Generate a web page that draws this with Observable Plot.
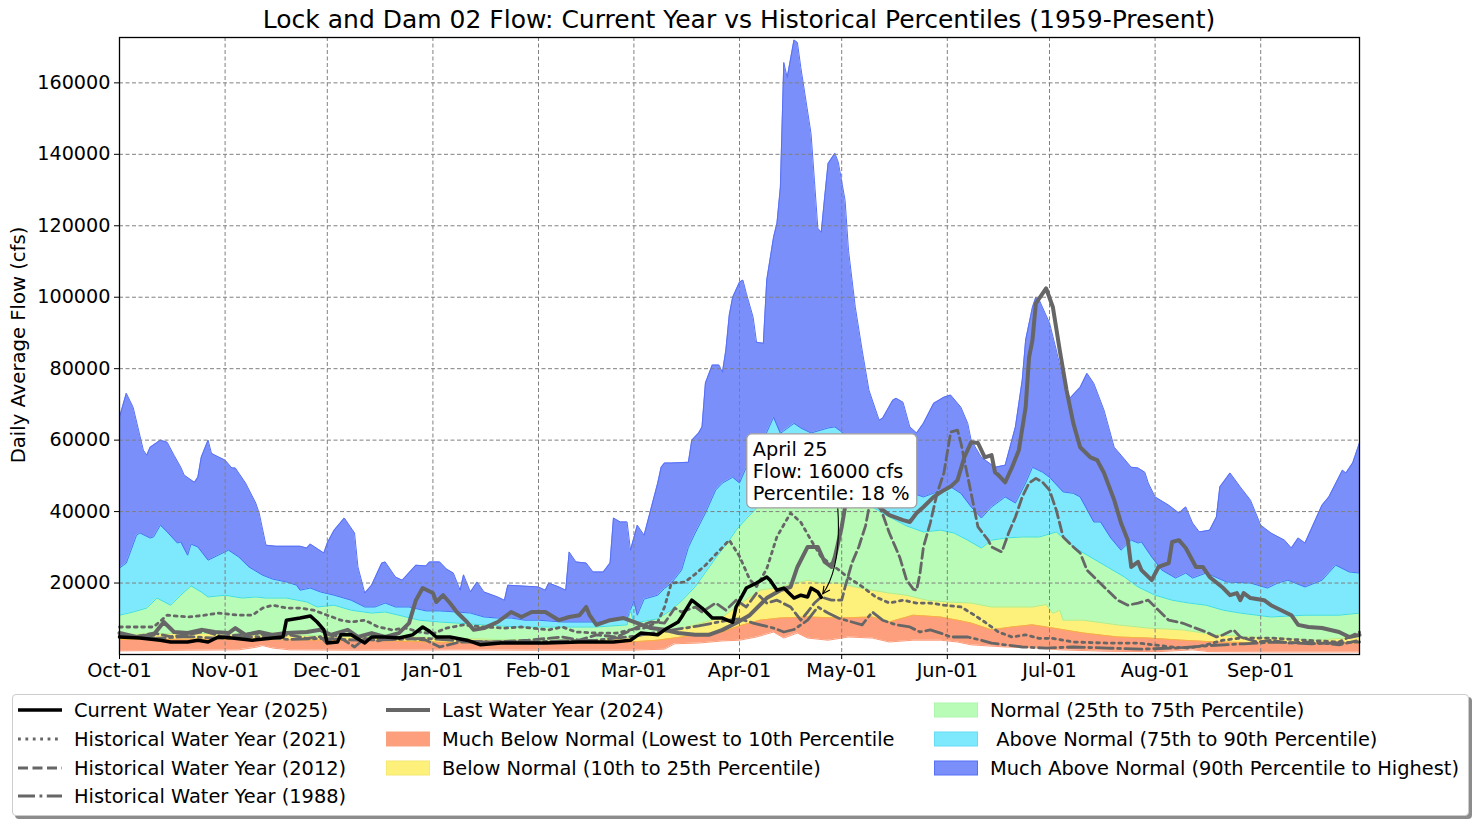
<!DOCTYPE html>
<html><head><meta charset="utf-8">
<script src="https://cdn.jsdelivr.net/npm/d3@7"></script>
<script src="https://cdn.jsdelivr.net/npm/@observablehq/plot@0.6"></script>
<style>
body{margin:0;background:#fff;font-family:"DejaVu Sans",sans-serif;color:#000;}
#wrap{position:relative;width:1477px;height:824px;overflow:hidden;}
#chart{position:absolute;left:0;top:0;}
#title{position:absolute;left:119px;width:1240px;top:5px;text-align:center;font-size:25px;line-height:30px;white-space:nowrap;}
#ylabel{position:absolute;left:18px;top:345px;transform:translate(-50%,-50%) rotate(-90deg);font-size:19.6px;white-space:nowrap;}
#legend{position:absolute;left:12px;top:694px;width:1455px;height:120px;border:1px solid #cccccc;border-radius:4px;background:#fff;box-shadow:3px 3px 0 rgba(0,0,0,0.45);}
.item{position:absolute;height:24px;display:flex;align-items:center;font-size:19.4px;white-space:pre;}
.item svg{margin-right:11px;flex:none;}
</style></head><body>
<div id="wrap">
<div id="title">Lock and Dam 02 Flow: Current Year vs Historical Percentiles (1959-Present)</div>
<div id="chart"></div>
<div id="ylabel">Daily Average Flow (cfs)</div>
<div id="legend"></div>
</div>
<script>
// ---- axis ticks ----
const monthDays = [0,31,61,92,123,151,182,212,243,273,304,335];
const monthLabels = ["Oct-01","Nov-01","Dec-01","Jan-01","Feb-01","Mar-01","Apr-01","May-01","Jun-01","Jul-01","Aug-01","Sep-01"];
const yTicks = [20000,40000,60000,80000,100000,120000,140000,160000];

// ---- percentile bands: [day of water year, cfs] ----
const maxQ = [[0,66400],[2,73100],[4,69200],[7,57200],[8,55800],[9,58000],[12,60000],[14,59400],[16,55800],[18,52400],[19,50200],[22,48200],[23,49600],[24,55200],[26,60000],[27,56300],[28,55800],[31,54400],[33,52200],[34,52200],[37,48000],[40,42400],[41,39600],[43,30600],[46,30300],[53,30300],[55,29800],[56,30900],[60,28400],[61,31200],[63,34800],[66,38200],[69,34000],[70,24500],[72,17200],[74,19400],[77,25600],[78,25900],[81,21700],[83,20800],[87,25000],[90,24800],[91,25900],[94,25900],[96,23900],[98,22800],[100,18000],[101,22300],[103,17500],[105,20300],[107,17500],[111,16100],[113,15200],[114,19400],[123,18900],[125,18000],[126,20000],[129,18900],[131,18000],[132,28700],[134,25900],[137,25600],[139,23100],[142,23100],[144,25600],[145,38200],[147,37100],[149,37100],[150,29200],[152,36200],[154,33400],[158,48000],[159,52400],[160,53600],[162,53600],[167,53800],[168,60000],[170,62000],[171,63700],[172,76000],[174,81000],[176,81000],[177,79000],[178,85200],[179,95000],[180,100000],[182,104200],[183,104800],[184,101100],[186,94400],[187,87400],[189,87100],[190,104800],[192,116800],[193,120700],[194,130800],[195,165700],[196,161500],[198,172000],[199,171300],[200,164300],[203,145800],[204,132700],[205,119300],[206,118200],[207,128000],[208,137400],[210,140300],[211,137800],[213,127100],[214,113100],[216,97200],[218,85200],[220,74000],[223,65600],[224,66100],[227,71200],[228,71700],[230,70600],[232,63700],[234,62000],[236,64700],[239,70300],[242,72000],[244,72600],[247,69200],[249,64700],[250,60000],[253,55200],[257,52400],[260,53000],[263,63700],[265,76800],[266,88000],[268,97200],[269,100000],[270,99200],[273,92800],[275,85200],[277,76800],[279,71700],[282,74800],[284,78700],[286,75900],[289,68400],[292,58000],[294,55800],[297,52400],[299,52200],[301,51000],[302,48000],[304,44100],[308,41800],[311,39600],[313,41300],[315,36800],[317,34300],[320,34800],[322,38500],[323,46900],[326,50800],[329,46900],[332,43200],[335,36200],[338,34000],[342,32000],[344,29800],[346,32600],[348,31200],[353,41800],[355,44100],[359,51600],[360,50800],[362,53600],[364,59200]];
const p90 = [[0,24200],[2,25600],[5,33400],[6,34000],[9,32600],[10,32900],[12,36200],[14,34300],[17,31200],[18,31500],[20,27800],[21,30900],[23,30100],[26,26400],[29,27800],[32,29200],[35,27300],[38,24500],[42,22200],[45,21100],[49,20300],[52,19400],[53,18000],[56,18600],[59,17500],[63,16600],[68,15200],[72,13300],[75,13300],[78,14400],[81,13300],[85,13300],[90,12200],[94,12200],[99,11900],[103,11600],[107,10500],[111,10200],[115,10200],[119,9600],[123,9600],[130,9100],[140,9100],[149,10000],[151,15000],[152,11000],[154,15500],[158,16600],[160,18500],[162,20000],[165,23600],[167,30000],[169,34000],[172,39600],[175,46000],[177,48000],[180,49600],[182,48000],[184,52400],[188,58000],[192,66400],[194,61900],[198,64700],[200,63400],[203,62000],[208,63400],[210,63700],[212,62300],[216,57000],[222,51000],[230,46000],[236,44100],[240,45500],[244,46900],[247,45100],[250,41300],[253,38200],[256,41300],[260,44100],[263,42400],[266,48000],[268,52400],[271,51000],[273,49600],[277,45500],[280,45100],[282,44100],[286,37100],[288,37100],[291,32600],[294,29200],[297,32000],[299,31200],[300,31500],[303,27300],[306,23600],[310,21400],[313,22800],[315,21400],[319,22800],[325,20300],[332,20000],[337,18600],[340,20000],[343,20800],[348,18900],[353,20800],[357,25000],[361,23100],[364,22800]];
const p75 = [[0,11000],[4,11900],[8,13000],[11,15800],[15,13800],[18,16600],[21,19200],[24,17500],[26,16100],[31,16600],[36,15800],[40,16100],[43,15800],[49,15800],[55,14700],[58,13300],[63,13800],[68,12400],[74,11600],[78,11900],[82,11000],[88,9600],[94,9100],[99,8800],[107,8300],[117,7700],[130,7700],[140,7700],[149,8300],[150,12400],[151,8800],[158,10000],[162,12500],[165,15000],[169,19000],[172,23000],[175,27000],[179,32000],[181,34800],[184,38000],[188,42000],[194,46000],[200,47000],[210,47000],[218,43000],[225,39000],[231,36000],[236,34300],[241,34800],[245,34000],[249,32000],[253,29800],[256,32000],[260,32600],[265,32900],[270,32900],[275,34300],[280,30100],[285,27300],[290,24500],[295,21700],[299,18900],[304,16600],[309,15200],[314,14400],[319,13800],[324,12400],[329,11600],[338,10500],[348,11000],[358,11000],[364,11600]];
const p25 = [[0,5500],[10,5800],[20,6000],[30,5800],[40,5500],[50,5500],[60,5200],[70,5000],[80,5000],[90,4800],[100,4500],[110,4200],[120,4000],[130,4000],[140,4200],[150,4800],[158,6000],[165,7400],[169,8300],[177,10500],[182,14000],[188,18000],[194,18900],[202,20800],[206,20000],[211,20000],[216,18900],[221,18000],[226,17200],[231,16600],[237,15200],[243,14700],[250,14400],[256,13300],[262,13300],[268,13300],[272,14000],[274,11500],[276,12400],[277,9600],[283,9600],[293,8300],[302,7400],[312,6900],[322,5500],[332,4900],[341,4600],[351,4000],[364,4900]];
const p10 = [[0,4200],[20,4300],[40,4200],[60,4000],[80,3800],[100,3300],[120,3000],[140,3200],[150,3500],[158,4000],[165,4900],[169,5500],[177,6300],[182,8000],[188,9600],[194,10200],[202,10500],[211,10200],[221,10500],[226,9100],[233,11000],[241,10500],[246,9600],[250,8800],[256,6900],[262,7700],[268,8300],[274,7400],[283,6000],[293,4900],[302,4600],[312,4000],[322,3500],[341,3200],[364,3200]];
const minQ = [[0,1000],[20,1200],[35,1300],[40,2000],[42,2500],[45,1800],[50,1300],[70,1200],[100,1300],[120,1200],[150,1200],[160,1500],[163,3000],[170,3200],[177,3800],[182,4000],[187,4900],[192,6300],[195,4600],[199,6000],[202,4600],[208,4000],[214,4900],[221,4600],[226,3500],[233,4000],[241,4000],[246,3500],[250,2700],[260,2100],[270,1800],[276,1300],[290,900],[305,800],[315,1300],[320,800],[340,700],[364,700]];

// ---- yearly series ----
const cur2025 = [[0,4900],[6,4600],[12,4000],[15,3500],[20,3500],[23,4000],[26,3500],[29,4900],[33,4600],[39,4000],[45,4600],[48,4900],[49,9600],[53,10200],[56,10800],[58,9100],[60,6900],[61,3200],[64,3500],[65,5500],[68,5500],[72,3200],[74,4900],[78,4900],[82,4600],[86,5500],[89,7700],[91,6500],[93,4900],[97,4900],[102,4000],[106,2700],[112,3200],[117,3200],[122,3200],[125,3200],[135,3500],[145,3500],[150,4000],[153,6000],[158,5500],[160,6900],[164,9100],[165,10500],[168,15200],[171,13000],[174,10200],[177,10200],[180,9000],[181,13300],[184,18600],[187,20000],[190,21700],[191,20800],[193,18000],[195,18600],[198,15800],[200,16600],[202,16100],[203,18600],[205,17500],[206,16000]];
const last2024 = [[0,6000],[5,4900],[10,5500],[13,9100],[16,6300],[20,6000],[24,6900],[28,6300],[32,6000],[34,7400],[37,5500],[41,6300],[45,5500],[49,6000],[55,6300],[59,6900],[62,5500],[67,6900],[70,4900],[74,6000],[78,4900],[82,6000],[85,8800],[87,15200],[89,18600],[92,17200],[93,14700],[95,16600],[97,14400],[99,11900],[102,9100],[104,6900],[107,7400],[111,9100],[115,11900],[118,10500],[121,11900],[125,11900],[129,9600],[132,10500],[135,11000],[137,13300],[138,11000],[140,8300],[144,9600],[148,10200],[152,8800],[156,7400],[160,6900],[164,6000],[169,5500],[173,5500],[177,6900],[181,8800],[185,11000],[190,15800],[194,18000],[197,18900],[199,24500],[202,30100],[205,30100],[206,28000],[207,25900],[209,24500],[210,27300],[212,35700],[213,41300],[215,46000],[218,44000],[222,42000],[226,39000],[230,37600],[232,37100],[234,39600],[236,41300],[239,44100],[242,46000],[244,47000],[246,48800],[248,55200],[250,59400],[252,59200],[254,55200],[256,55800],[257,51000],[258,50200],[260,48200],[262,52400],[264,57200],[266,69200],[267,83200],[268,88000],[269,98300],[272,102500],[274,97200],[276,85200],[278,74000],[280,64700],[282,58000],[285,55200],[287,54400],[289,50800],[292,43200],[294,36800],[296,32000],[297,24500],[299,25900],[300,23600],[303,20800],[305,24500],[308,25600],[309,31500],[311,32000],[313,29800],[316,24500],[318,24500],[320,21700],[324,18600],[326,16600],[328,17200],[329,15200],[330,17200],[332,15800],[336,15200],[338,13800],[341,12400],[344,11000],[346,8300],[349,7700],[353,7400],[358,6300],[361,4900],[364,5500]];
const hist2021 = [[0,7700],[10,7700],[14,11000],[20,10500],[25,11000],[29,11600],[35,11000],[39,11000],[42,13000],[45,13800],[49,13000],[53,13000],[57,12400],[61,11000],[65,9600],[68,9100],[72,9600],[76,7700],[80,6900],[84,7400],[88,6300],[92,5800],[96,7400],[101,8300],[107,7700],[113,7400],[118,7700],[126,6900],[130,7700],[134,6300],[140,6000],[146,6000],[150,6900],[154,7400],[158,9100],[160,13300],[162,20000],[166,20300],[169,22500],[172,25000],[174,27000],[176,29000],[179,32000],[182,27500],[185,21000],[187,19000],[190,24000],[193,33000],[197,39600],[200,37000],[203,32000],[206,27300],[210,24500],[214,21500],[218,19000],[222,16100],[226,14400],[230,15200],[234,14400],[238,14400],[242,13800],[247,13300],[250,11600],[254,9100],[258,6300],[262,4900],[266,5500],[270,4500],[274,4500],[280,3500],[290,3200],[299,3200],[309,2100],[314,1800],[319,2700],[324,4000],[329,4600],[338,4600],[348,4000],[358,3500],[364,6300]];
const hist2012 = [[0,5500],[5,5000],[10,6000],[15,5000],[20,5500],[25,6500],[30,5000],[35,5500],[40,6000],[45,5000],[50,5500],[55,4500],[59,5000],[61,3000],[63,5500],[66,4000],[69,2100],[72,4500],[76,3800],[80,5000],[85,4500],[90,4000],[94,2100],[100,3500],[110,3500],[120,4000],[130,4900],[135,4000],[140,5500],[146,4900],[152,7700],[156,9100],[160,8800],[163,13000],[165,11900],[169,13300],[171,11900],[175,14400],[178,12400],[181,15200],[184,13300],[187,17200],[190,14400],[193,15200],[197,13300],[200,9600],[202,11900],[204,14400],[206,16100],[209,15200],[212,15200],[213,18900],[215,25600],[217,30100],[219,36000],[221,46000],[223,42000],[226,34000],[229,27300],[231,21000],[233,18300],[234,18000],[235,22800],[236,30100],[238,36800],[240,45100],[242,50800],[244,62300],[246,62800],[247,59200],[248,54400],[250,45100],[252,35700],[255,32000],[256,30100],[259,28700],[261,34000],[263,38500],[265,44100],[267,48000],[269,49300],[271,48200],[273,46000],[275,40400],[277,32900],[280,30100],[282,28400],[284,23600],[287,20800],[290,18000],[293,15200],[296,13800],[299,14400],[302,15200],[304,13300],[308,9600],[312,8800],[315,7700],[319,6300],[322,4900],[324,5500],[327,6900],[329,4900],[334,3500],[338,4000],[343,3200],[348,3500],[353,3200],[358,2700],[364,4000]];
const hist1988 = [[0,5000],[10,4500],[20,5000],[30,4500],[40,5000],[50,4200],[60,4500],[70,4000],[80,4200],[90,4500],[100,3800],[110,3500],[120,3500],[130,3800],[140,4000],[150,5000],[160,6500],[170,8000],[178,9500],[182,10000],[186,8800],[192,7400],[195,6300],[198,7000],[202,9600],[205,13300],[208,11600],[211,10200],[215,9100],[218,8300],[221,11900],[224,9600],[228,8300],[232,7700],[235,6300],[238,6900],[241,6000],[244,4900],[249,4900],[253,4000],[256,3200],[260,2700],[265,2100],[272,1800],[280,2100],[290,1800],[300,1500],[310,1800],[320,2500],[330,3000],[340,3500],[350,3000],[364,3500]];

// ---- annotation ----
const annDay = 206, annFlow = 16000;
const annLines = ["April 25", "Flow: 16000 cfs", "Percentile: 18 %"];

const X = d => d[0], Y = d => d[1];
const GRAY = "#666666";
const bands = [
  {data: maxQ, fill: "#7b8ffa", edge: "#5670f6"},
  {data: p90,  fill: "#7ee8fc", edge: "#4d6ef4"},
  {data: p75,  fill: "#b9fcb7", edge: "#3edcf0"},
  {data: p25,  fill: "#fdf07b", edge: "#a7f09a"},
  {data: p10,  fill: "#fd9f7d", edge: "#f9b040"},
  {data: minQ, fill: "#ffffff", edge: "#fd9a78"}
];

const chart = Plot.plot({
  width: 1477, height: 690,
  marginTop: 37, marginLeft: 119, marginRight: 118, marginBottom: 36,
  style: {fontFamily: "DejaVu Sans", fontSize: "19px", color: "black", background: "transparent"},
  x: {domain: [0, 364]},
  y: {domain: [0, 172700]},
  marks: [
    ...bands.map(b => Plot.areaY(b.data, {x: X, y: Y, fill: b.fill})),
    ...bands.map(b => Plot.lineY(b.data, {x: X, y: Y, stroke: b.edge, strokeWidth: 1})),
    Plot.gridX({ticks: monthDays, stroke: "#808080", strokeOpacity: 1, strokeWidth: 1, strokeDasharray: "4,2.5"}),
    Plot.gridY({ticks: yTicks, stroke: "#808080", strokeOpacity: 1, strokeWidth: 1, strokeDasharray: "4,2.5"}),
    Plot.line(hist1988, {x: X, y: Y, stroke: GRAY, strokeWidth: 2.8, strokeDasharray: "17,4.5,2.8,4.5"}),
    Plot.line(hist2012, {x: X, y: Y, stroke: GRAY, strokeWidth: 2.8, strokeDasharray: "10,4.5"}),
    Plot.line(hist2021, {x: X, y: Y, stroke: GRAY, strokeWidth: 2.8, strokeDasharray: "2.8,4.6"}),
    Plot.line(last2024, {x: X, y: Y, stroke: GRAY, strokeWidth: 4, strokeLinejoin: "round"}),
    Plot.line(cur2025, {x: X, y: Y, stroke: "black", strokeWidth: 3.5, strokeLinejoin: "round"}),
    Plot.frame({stroke: "black", strokeWidth: 1.3}),
    Plot.axisX({ticks: monthDays, tickFormat: d => monthLabels[monthDays.indexOf(d)], tickSize: 5, tickPadding: 4, fontSize: 19.2, label: null}),
    Plot.axisY({ticks: yTicks, tickFormat: d => String(d), tickSize: 5, tickPadding: 4, fontSize: 19.2, label: null})
  ]
});
document.getElementById("chart").appendChild(chart);

// annotation box + arrow anchored to data point
(function(){
  const ax = chart.scale("x").apply(annDay), ay = chart.scale("y").apply(annFlow);
  const svg = d3.select(chart);
  const defs = svg.append("defs");
  defs.append("marker").attr("id","ah").attr("viewBox","0 0 10 10").attr("refX",9).attr("refY",5)
    .attr("markerWidth",9).attr("markerHeight",9).attr("markerUnits","userSpaceOnUse").attr("orient","auto")
    .append("path").attr("d","M1,1 L9,5 L1,9").attr("fill","none").attr("stroke","black").attr("stroke-width",1.2);
  const g = svg.append("g").attr("text-anchor","start");
  g.append("path").attr("d", `M${ax+17},${ay-89} Q${ax+21},${ay-30} ${ax+2},${ay-3}`)
    .attr("fill","none").attr("stroke","black").attr("stroke-width",1.1).attr("marker-end","url(#ah)");
  g.append("rect").attr("x", ax-74).attr("y", ay-163).attr("width",170).attr("height",74).attr("rx",5)
    .attr("fill","white").attr("stroke","#a0a0a0").attr("stroke-width",1.3);
  annLines.forEach((t,i) => g.append("text").attr("x", ax-68).attr("y", ay-141+i*22)
    .attr("text-anchor","start")
    .attr("font-size","19.3px").attr("font-family","DejaVu Sans").attr("fill","black").text(t));
})();

// legend
const legendItems = [
  {col:0,row:0,label:"Current Water Year (2025)", type:"line", stroke:"black", w:3.5, dash:null},
  {col:0,row:1,label:"Historical Water Year (2021)", type:"line", stroke:GRAY, w:2.8, dash:"2.8,4.6"},
  {col:0,row:2,label:"Historical Water Year (2012)", type:"line", stroke:GRAY, w:2.8, dash:"10,4.5"},
  {col:0,row:3,label:"Historical Water Year (1988)", type:"line", stroke:GRAY, w:2.8, dash:"17,4.5,2.8,4.5"},
  {col:1,row:0,label:"Last Water Year (2024)", type:"line", stroke:GRAY, w:4, dash:null},
  {col:1,row:1,label:"Much Below Normal (Lowest to 10th Percentile", type:"patch", fill:"#fd9f7d", edge:"#f9a27f"},
  {col:1,row:2,label:"Below Normal (10th to 25th Percentile)", type:"patch", fill:"#fdf07b", edge:"#f5e870"},
  {col:2,row:0,label:"Normal (25th to 75th Percentile)", type:"patch", fill:"#b9fcb7", edge:"#b0f5ae"},
  {col:2,row:1,label:" Above Normal (75th to 90th Percentile)", type:"patch", fill:"#7ee8fc", edge:"#66dcf5"},
  {col:2,row:2,label:"Much Above Normal (90th Percentile to Highest)", type:"patch", fill:"#7b8ffa", edge:"#5670f6"}
];
const colX = [4, 372, 920];
const rowY = [3, 32, 61, 89];
const leg = document.getElementById("legend");
legendItems.forEach(it => {
  const div = document.createElement("div");
  div.className = "item";
  div.style.left = colX[it.col] + "px";
  div.style.top = rowY[it.row] + "px";
  let sv;
  if (it.type === "line") {
    sv = `<svg width="46" height="20"><line x1="1" x2="45" y1="10" y2="10" stroke="${it.stroke}" stroke-width="${it.w}" ${it.dash ? `stroke-dasharray="${it.dash}"` : ""}/></svg>`;
  } else {
    sv = `<svg width="46" height="20"><rect x="1.5" y="3" width="43" height="14" fill="${it.fill}" stroke="${it.edge}" stroke-width="1"/></svg>`;
  }
  div.innerHTML = sv + `<span>${it.label}</span>`;
  leg.appendChild(div);
});
</script>
</body></html>
